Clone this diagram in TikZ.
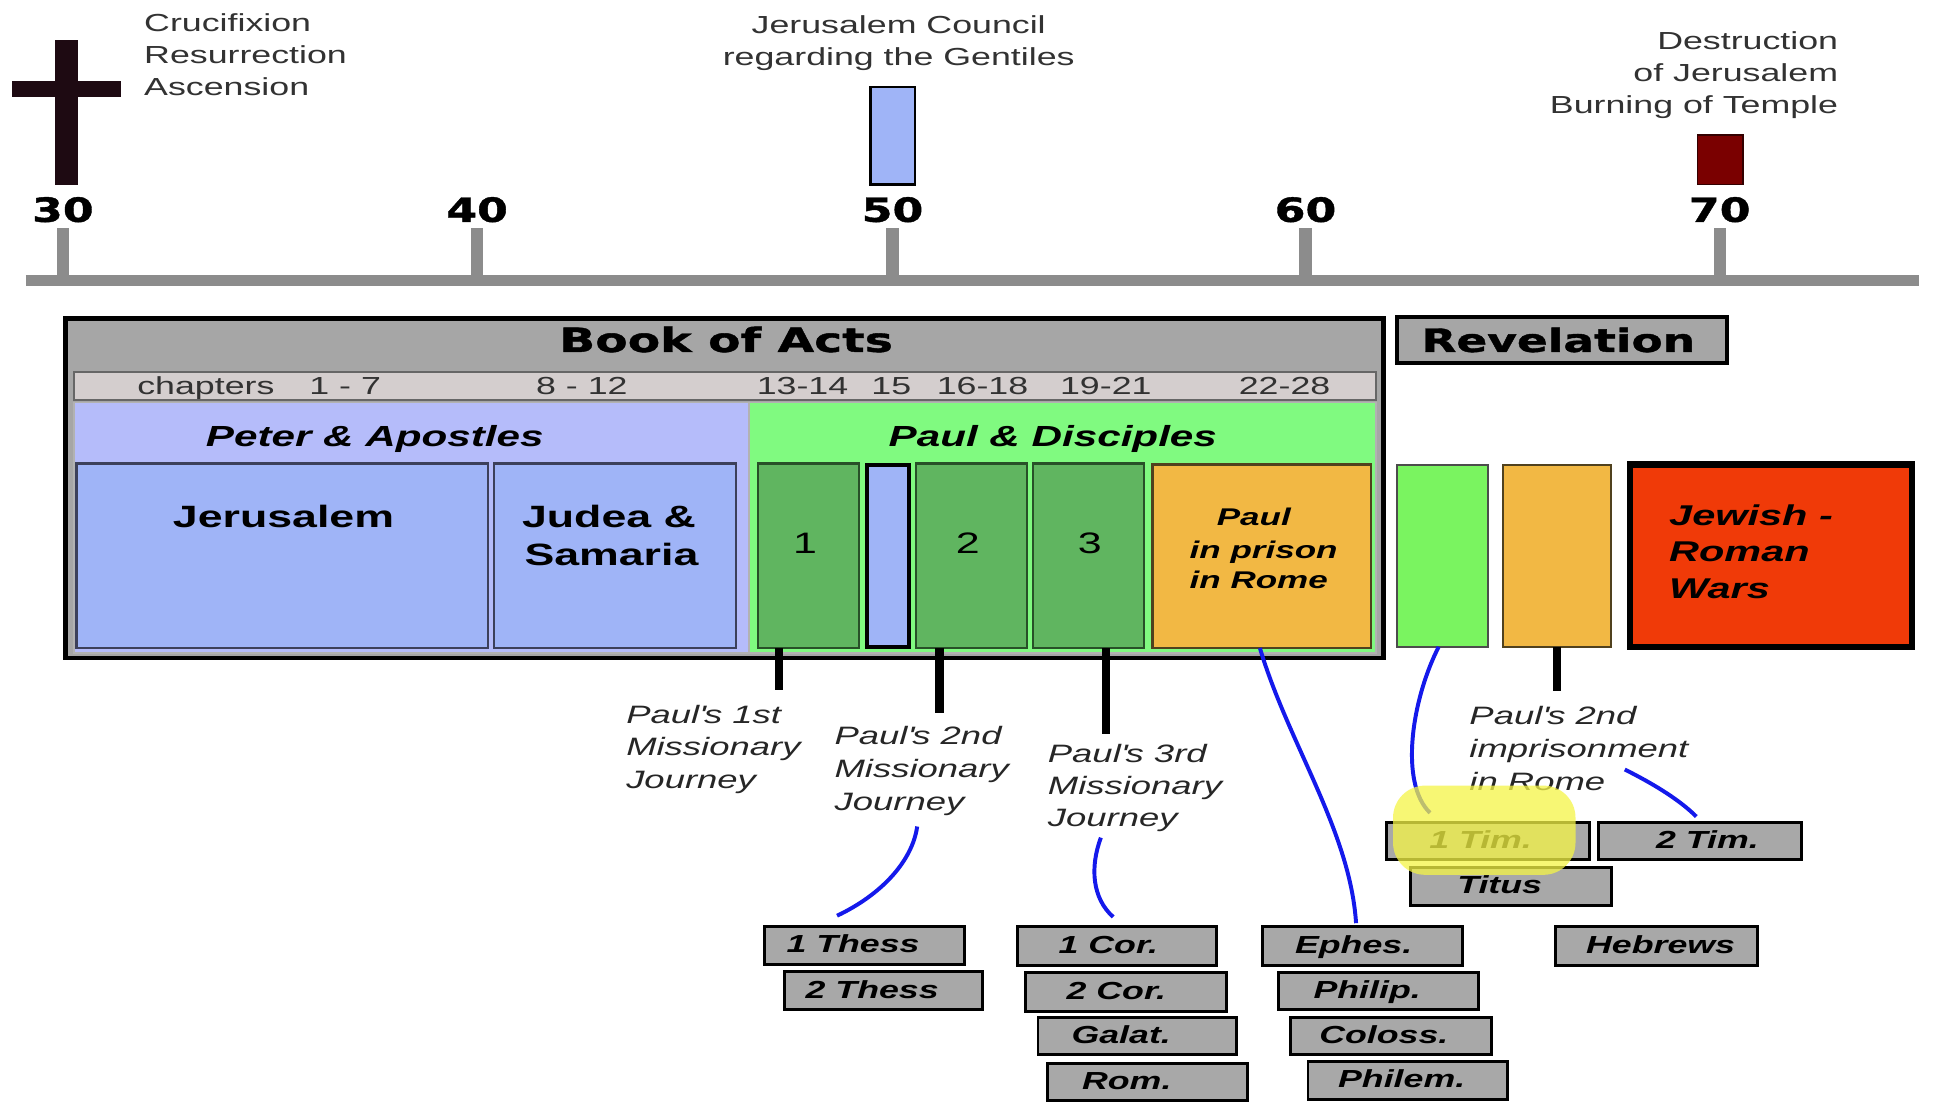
\documentclass[tikz,border=0pt]{standalone}
\usepackage{fontspec}
\setmainfont{Liberation Sans}[FakeStretch=1.45]
\newfontfamily\heavyfont{DejaVu Sans Bold}[FakeStretch=1.33,FakeBold=1.2]
\newfontfamily\titlefont{DejaVu Sans Bold}[FakeStretch=1.42,FakeBold=1.2]
\usetikzlibrary{calc}

\definecolor{axisgray}{RGB}{140,140,140}
\definecolor{titlegray}{RGB}{166,166,166}
\definecolor{chapgray}{RGB}{212,206,206}
\definecolor{lavender}{RGB}{181,188,250}
\definecolor{periblue}{RGB}{159,180,247}
\definecolor{litegreen}{RGB}{128,250,128}
\definecolor{midgreen}{RGB}{96,181,96}
\definecolor{orangeb}{RGB}{242,184,68}
\definecolor{revgreen}{RGB}{122,244,96}
\definecolor{warred}{RGB}{240,58,8}
\definecolor{darkred}{RGB}{122,0,0}
\definecolor{letgray}{RGB}{168,168,168}
\definecolor{curveblue}{RGB}{20,25,235}
\definecolor{hiyellow}{RGB}{245,245,70}
\definecolor{crossdark}{RGB}{30,10,18}
\definecolor{txtgray}{RGB}{50,50,50}
\definecolor{bluebord}{RGB}{60,64,90}
\definecolor{greenbord}{RGB}{40,80,40}
\definecolor{orangebord}{RGB}{80,65,30}

\newcommand\fsz[2]{\fontsize{#1pt}{#2pt}\selectfont}
\newcommand\boxnode[7]{%
  \node[#2, minimum width={(#5-#3)*0.5pt}, minimum height={(#6-#4)*0.50257pt}] (#1) at ({(#3+#5)/2},{(#4+#6)/2}) {#7};}
\newcommand\apo{\textquotesingle}
% shift text inside a box by #1 (in pt = display px)
\newcommand\shtxt[2]{\makebox[0pt][c]{\kern#1\relax #2}}

\begin{document}
\begin{tikzpicture}[x=0.5pt,y=-0.50257pt,
  plainnode/.style={inner sep=0pt,outer sep=0pt},
  anntxt/.style={plainnode,text=txtgray,font=\fsz{10}{12}},
  yeartxt/.style={plainnode,anchor=base,font=\heavyfont\fsz{13.5}{15}},
  chaptxt/.style={plainnode,anchor=base,text=txtgray,font=\fsz{10}{12}},
  regiontxt/.style={plainnode,anchor=base,font=\bfseries\itshape\fsz{11.8}{14}},
  placetxt/.style={plainnode,anchor=base,font=\bfseries\fsz{12.5}{15}},
  numtxt/.style={plainnode,anchor=base,font=\fsz{12}{14}},
  prisontxt/.style={plainnode,anchor=base west,font=\bfseries\itshape\fsz{9.8}{12}},
  wartxt/.style={plainnode,anchor=base west,font=\bfseries\itshape\fsz{11.6}{14}},
  jourtxt/.style={plainnode,anchor=base west,text=black!85,font=\itshape\fsz{10.2}{12}},
  letbox/.style={plainnode,draw=black,line width=1.2pt,fill=letgray,font=\bfseries\itshape\fsz{10}{12},text height=6pt,text depth=0pt},
  tickline/.style={draw=axisgray,line width=5pt},
  axisline/.style={draw=axisgray,line width=4.5pt},
  stemline/.style={draw=black,line width=3.5pt},
  bcurve/.style={draw=curveblue,line width=1.6pt},
  actsbox/.style={plainnode,draw=black,line width=2pt,fill=titlegray},
  chapbox/.style={plainnode,draw=gray!80!black,line width=0.8pt,fill=chapgray},
  peterbox/.style={plainnode,draw=gray!60,line width=0.6pt,fill=lavender},
  paulbox/.style={plainnode,draw=gray!60,line width=0.6pt,fill=litegreen},
  placebox/.style={plainnode,draw=bluebord,line width=0.9pt,fill=periblue},
  jourbox/.style={plainnode,draw=greenbord,line width=0.9pt,fill=midgreen},
  councilbox/.style={plainnode,draw=black,line width=1.6pt,fill=periblue},
  prisonbox/.style={plainnode,draw=orangebord,line width=1pt,fill=orangeb},
  revbox/.style={plainnode,draw=black,line width=1.5pt,fill=titlegray},
  revgbox/.style={plainnode,draw=black!70,line width=0.9pt,fill=revgreen},
  revobox/.style={plainnode,draw=orangebord,line width=0.9pt,fill=orangeb},
  warbox/.style={plainnode,draw=black,line width=2.6pt,fill=warred},
  topcouncil/.style={plainnode,draw=black,line width=1pt,fill=periblue},
  burnbox/.style={plainnode,draw=black!80!red,line width=0.6pt,fill=darkred}
]
\useasboundingbox (0,0) rectangle (1568,889.35);
\fill[white] (0,0) rectangle (1568,889.35);

% ---------- timeline ----------
\coordinate (axL) at (21,226.5);
\coordinate (axR) at (1557,226.5);
\foreach \yr/\xx in {30/51,40/387,50/724,60/1059,70/1395}{
  \coordinate (t\yr) at (\xx,184);
  \coordinate (a\yr) at (\xx,226.5);
  \draw[tickline] (t\yr) -- (a\yr);
  \node[yeartxt] (y\yr) at (\xx,179) {\yr};
}
\draw[axisline] (axL) -- (axR);

% cross
\fill[crossdark] (45,32) rectangle (63,149);
\fill[crossdark] (10,65) rectangle (98,78);

% top annotations
\node[anntxt,anchor=base west] (cru1) at (117,25.6) {Crucifixion};
\node[anntxt,anchor=base west] (cru2) at (117,51.3) {Resurrection};
\node[anntxt,anchor=base west] (cru3) at (117,77) {Ascension};
\node[anntxt,anchor=base] (jc1) at (729,27) {Jerusalem Council};
\node[anntxt,anchor=base] (jc2) at (729,52.5) {regarding the Gentiles};
\node[anntxt,anchor=base east] (de1) at (1491,40) {Destruction};
\node[anntxt,anchor=base east] (de2) at (1491,65.5) {of Jerusalem};
\node[anntxt,anchor=base east] (de3) at (1491,91.5) {Burning of Temple};

\boxnode{council}{topcouncil}{706}{70}{742}{149}{}
\boxnode{burn}{burnbox}{1377}{109}{1414}{149}{}

% ---------- Book of Acts ----------
\boxnode{acts}{actsbox}{53}{257}{1122}{531}{}
\node[plainnode,anchor=base,font=\titlefont\fsz{13.5}{15}] (actsT) at (589,284) {Book of Acts};
\boxnode{chapband}{chapbox}{60}{300}{1116}{323}{}
\node[chaptxt] (ch0) at (167,318) {chapters};
\node[chaptxt] (ch1) at (280,318) {1 - 7};
\node[chaptxt] (ch2) at (472,318) {8 - 12};
\node[chaptxt] (ch3) at (651,318) {13-14};
\node[chaptxt] (ch4) at (723,318) {15};
\node[chaptxt] (ch5) at (797,318) {16-18};
\node[chaptxt] (ch6) at (897,318) {19-21};
\node[chaptxt] (ch7) at (1042,318) {22-28};

\boxnode{peterreg}{peterbox}{60}{325}{607}{527}{}
\boxnode{paulreg}{paulbox}{608}{325}{1116}{527}{}
\node[regiontxt] (peterT) at (304,360.5) {Peter \& Apostles};
\node[regiontxt] (paulT) at (854,360.5) {Paul \& Disciples};

\boxnode{jer}{placebox}{62}{374}{396}{523}{}
\boxnode{jud}{placebox}{401}{374}{597}{523}{}
\node[placetxt] (jerT) at (230,426) {Jerusalem};
\node[placetxt] (judT1) at (494,426) {Judea \&};
\node[placetxt] (judT2) at (496,456) {Samaria};

\boxnode{jy1}{jourbox}{615}{374}{697}{523}{}
\boxnode{cnc15}{councilbox}{703}{375}{737}{522}{}
\boxnode{jy2}{jourbox}{743}{374}{833}{523}{}
\boxnode{jy3}{jourbox}{838}{374}{928}{523}{}
\node[numtxt] (n1) at (653,446.5) {1};
\node[numtxt] (n2) at (785,446.5) {2};
\node[numtxt] (n3) at (884,446.5) {3};

\boxnode{prison}{prisonbox}{935}{375}{1112}{523}{}
\node[prisontxt] (pr1) at (987,424) {Paul};
\node[prisontxt] (pr2) at (965,450.5) {in prison};
\node[prisontxt] (pr3) at (965,475) {in Rome};

% ---------- Revelation and right part ----------
\boxnode{revel}{revbox}{1133}{256}{1401}{293}{}
\node[plainnode,anchor=base,font=\titlefont\fsz{13}{15}] (revT) at (1264,284) {Revelation};
\boxnode{revgreen}{revgbox}{1133}{375}{1207}{522}{}
\boxnode{revorange}{revobox}{1219}{375}{1307}{522}{}
\boxnode{wars}{warbox}{1322}{375}{1551}{522}{}
\node[wartxt] (wa1) at (1354,424) {Jewish -};
\node[wartxt] (wa2) at (1354,453.5) {Roman};
\node[wartxt] (wa3) at (1354,483) {Wars};

% ---------- stems ----------
\coordinate (s1a) at ($(jy1.south west)+(17,0)$);
\coordinate (s1b) at (632,557);
\coordinate (s2a) at ($(jy2.south west)+(19,0)$);
\coordinate (s2b) at (762,575);
\coordinate (s3a) at ($(jy3.south west)+(59,0)$);
\coordinate (s3b) at (897,592);
\coordinate (s4a) at ($(revorange.south west)+(44,0)$);
\coordinate (s4b) at (1263,558);
\draw[stemline] (s1a) -- (s1b);
\draw[stemline] (s2a) -- (s2b);
\draw[stemline] (s3a) -- (s3b);
\draw[stemline] (s4a) -- (s4b);

% ---------- journey labels ----------
\node[jourtxt] (ja1) at (508,583.5) {Paul\apo s 1st};
\node[jourtxt] (ja2) at (508,610) {Missionary};
\node[jourtxt] (ja3) at (508,636) {Journey};
\node[jourtxt] (jb1) at (677,601) {Paul\apo s 2nd};
\node[jourtxt] (jb2) at (677,627.5) {Missionary};
\node[jourtxt] (jb3) at (677,654) {Journey};
\node[jourtxt] (jc1b) at (850,615) {Paul\apo s 3rd};
\node[jourtxt] (jc2b) at (850,641.5) {Missionary};
\node[jourtxt] (jc3b) at (850,667) {Journey};
\node[jourtxt] (im1) at (1192,585) {Paul\apo s 2nd};
\node[jourtxt] (im2) at (1192,611.5) {imprisonment};
\node[jourtxt] (im3) at (1192,637.6) {in Rome};

% ---------- letter boxes ----------
\boxnode{thess1}{letbox}{620}{748}{782}{778}{\shtxt{-9pt}{1 Thess}}
\boxnode{thess2}{letbox}{636}{784}{797}{815}{\shtxt{-9pt}{2 Thess}}
\boxnode{cor1}{letbox}{825}{748}{987}{779}{\shtxt{-7pt}{1 Cor.}}
\boxnode{cor2}{letbox}{832}{785}{995}{816}{\shtxt{-8pt}{2 Cor.}}
\boxnode{galat}{letbox}{842}{821}{1003}{851}{\shtxt{-13pt}{Galat.}}
\boxnode{rom}{letbox}{850}{858}{1012}{888}{\shtxt{-17pt}{Rom.}}
\boxnode{ephes}{letbox}{1024}{748}{1186}{779}{\shtxt{-7pt}{Ephes.}}
\boxnode{philip}{letbox}{1037}{785}{1199}{815}{\shtxt{-9pt}{Philip.}}
\boxnode{coloss}{letbox}{1047}{821}{1210}{851}{\shtxt{-6pt}{Coloss.}}
\boxnode{philem}{letbox}{1061}{857}{1223}{887}{\shtxt{-5pt}{Philem.}}
\boxnode{tim1}{letbox}{1125}{664}{1289}{694}{\shtxt{-6pt}{1 Tim.}}
\boxnode{tim2}{letbox}{1297}{664}{1461}{694}{\shtxt{6pt}{2 Tim.}}
\boxnode{titus}{letbox}{1144}{700}{1307}{731}{\shtxt{-9pt}{Titus}}
\boxnode{hebrews}{letbox}{1262}{748}{1426}{779}{\shtxt{3pt}{Hebrews}}

% ---------- blue curves ----------
\coordinate (c1a) at ($(prison.south west)+(87,0)$);
\coordinate (c1b) at ($(ephes.north west)+(76,-3)$);
\coordinate (c2a) at ($(revgreen.south west)+(34,0)$);
\coordinate (c2b) at ($(tim1.north west)+(35,-8)$);
\coordinate (c3a) at (744,667);
\coordinate (c3b) at ($(thess1.north west)+(59,-9)$);
\coordinate (c4a) at (893,676);
\coordinate (c4b) at ($(cor1.north west)+(78,-8)$);
\coordinate (c5a) at (1318,621);
\coordinate (c5b) at ($(tim2.north west)+(79,-5)$);
\draw[bcurve] (c1a) .. controls (1045,600) and (1095,670) .. (c1b);
\draw[bcurve] (c2a) .. controls (1145,565) and (1135,632) .. (c2b);
\draw[bcurve] (c3a) .. controls (740,695) and (715,722) .. (c3b);
\draw[bcurve] (c4a) .. controls (884,700) and (886,725) .. (c4b);
\draw[bcurve] (c5a) .. controls (1340,632) and (1362,645) .. (c5b);

% ---------- highlight ----------
\fill[hiyellow,opacity=0.75,rounded corners=13pt] (1130,634) rectangle (1278,706);
\end{tikzpicture}
\end{document}
